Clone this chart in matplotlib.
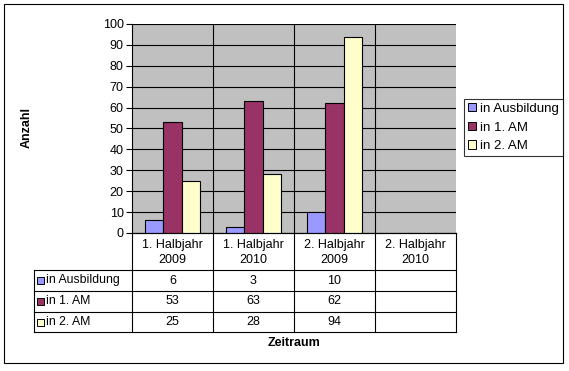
import numpy as np
import matplotlib.pyplot as plt
from matplotlib.patches import Rectangle
from matplotlib.lines import Line2D

plt.rcParams['font.family'] = ['Liberation Sans', 'DejaVu Sans']

# chart data
periods = ["1. Halbjahr\n2009", "1. Halbjahr\n2010", "2. Halbjahr\n2009", "2. Halbjahr\n2010"]
series = ["in Ausbildung", "in 1. AM", "in 2. AM"]
ausbildung = [6, 3, 10, None]
am1 = [53, 63, 62, None]
am2 = [25, 28, 94, None]
colors = ["#9999FF", "#993366", "#FFFFCC"]

W, H = 569, 371
fig = plt.figure(figsize=(W / 100, H / 100), dpi=100)


def fx(px):
    return px / W


def fy(py):
    return 1 - py / H


# plot area in pixels
L, R, T, B = 132, 456, 24, 233
ax = fig.add_axes([fx(L), fy(B), fx(R) - fx(L), fy(T) - fy(B)])
ax.set_facecolor("#C0C0C0")

n = len(periods)
x = np.arange(n)
bw = 0.225
all_vals = [ausbildung, am1, am2]
for i, (vals, c) in enumerate(zip(all_vals, colors)):
    v = [np.nan if val is None else val for val in vals]
    ax.bar(x + (i - 1) * bw, v, width=bw, color=c, edgecolor="black",
           linewidth=0.8, zorder=3)

ax.set_xlim(-0.5, n - 0.5)
ax.set_ylim(0, 100)
ax.set_yticks(range(0, 101, 10))
ax.yaxis.grid(True, color="black", linewidth=0.8, zorder=1)
for b in np.arange(-0.5, n, 1.0)[1:-1]:
    ax.axvline(b, color="black", linewidth=0.8, zorder=1)
ax.set_xticks([])
ax.tick_params(axis="y", length=4, width=0.8, labelsize=9, pad=2)
for s in ax.spines.values():
    s.set_linewidth(0.8)
ax.spines["top"].set_visible(False)
ax.spines["right"].set_visible(False)

fig.text(fx(27), fy(128), "Anzahl", rotation=90, ha="center", va="center",
         fontsize=9, fontweight="bold")

# data table below the plot
col_w = (R - L) / n
hdr_b = 270
row_lines = [270, 291, 312, 332]
tab_left = 34
lw = 0.8


def hline(x0, x1, y):
    fig.add_artist(Line2D([fx(x0), fx(x1)], [fy(y), fy(y)], color="black", lw=lw))


def vline(xp, y0, y1):
    fig.add_artist(Line2D([fx(xp), fx(xp)], [fy(y0), fy(y1)], color="black", lw=lw))


for k in range(n + 1):
    vline(L + k * col_w, B, row_lines[-1])
vline(tab_left, row_lines[0], row_lines[-1])
hline(L, R, B)
for y in row_lines:
    hline(tab_left, R, y)

for k, p in enumerate(periods):
    fig.text(fx(L + (k + 0.5) * col_w), fy((B + hdr_b) / 2 + 1), p, ha="center", va="center",
             fontsize=9, linespacing=1.35)

for r, (name, vals, c) in enumerate(zip(series, all_vals, colors)):
    yc = (row_lines[r] + row_lines[r + 1]) / 2
    fig.add_artist(Rectangle((fx(37), fy(yc + 3.5)), fx(7), fy(0) - fy(7), facecolor=c,
                             edgecolor="black", lw=0.7, transform=fig.transFigure))
    fig.text(fx(46), fy(yc), name, ha="left", va="center", fontsize=8.8)
    for k, v in enumerate(vals):
        if v is not None:
            fig.text(fx(L + (k + 0.5) * col_w), fy(yc), str(v), ha="center", va="center", fontsize=9)

fig.text(fx(294), fy(343), "Zeitraum", ha="center", va="center", fontsize=9, fontweight="bold")

# legend on the right
handles = [Rectangle((0, 0), 1, 1, facecolor=c, edgecolor="black", lw=0.7) for c in colors]
leg = fig.legend(handles, series, loc="upper left", bbox_to_anchor=(fx(464), fy(99)),
                 fontsize=9.5, frameon=True, fancybox=False, handlelength=0.6, handleheight=0.6,
                 handletextpad=0.3, borderpad=0.3, labelspacing=0.5, borderaxespad=0)
leg.get_frame().set_edgecolor("black")
leg.get_frame().set_linewidth(0.8)

# outer frame
fig.add_artist(Rectangle((fx(4), fy(363)), fx(559), fy(0) - fy(359), facecolor="none",
                         edgecolor="black", lw=0.8, transform=fig.transFigure))

fig.savefig("out.png", dpi=100)
